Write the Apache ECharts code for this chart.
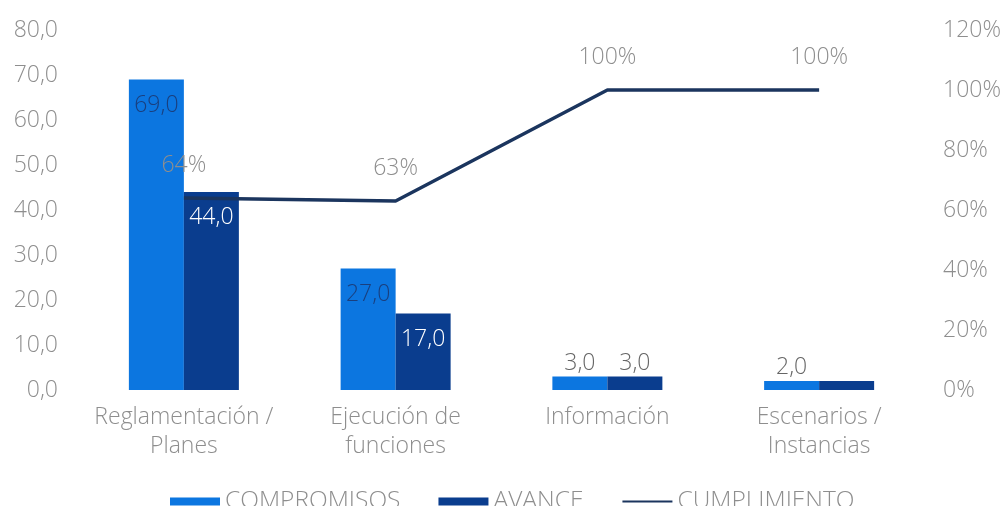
<!DOCTYPE html>
<html>
<head>
<meta charset="utf-8">
<script src="https://cdn.jsdelivr.net/npm/echarts@6/dist/echarts.min.js"></script>
<style>
html,body{margin:0;padding:0;background:#fff;}
#chart{width:1005px;height:506px;}
</style>
</head>
<body>
<div id="chart"></div>
<script>
const categories = ['Reglamentación /\nPlanes', 'Ejecución de\nfunciones', 'Información', 'Escenarios /\nInstancias'];
const compromisos = [69, 27, 3, 2];
const avance = [44, 17, 3, 2];
const cumplimiento = [0.64, 0.63, 1.0, 1.0];
const leftTicks = [0, 10, 20, 30, 40, 50, 60, 70, 80];
const rightTicks = [0, 0.2, 0.4, 0.6, 0.8, 1.0, 1.2];
const avanceLabelHidden = [false, false, false, true];

const FONT = '"Open Sans", sans-serif';
const GRAY = '#8e8e8e';
const FS = 23;
const fmt1 = v => v.toFixed(1).replace('.', ',');

function barData(vals, insideColor, hidden) {
  return vals.map((v, i) => {
    const small = v < 8;
    return {
      value: v,
      label: {
        show: !(hidden && hidden[i]),
        position: small ? 'top' : 'insideTop',
        distance: small ? 2 : 14,
        color: small ? '#666666' : insideColor
      }
    };
  });
}

const chart = echarts.init(document.getElementById('chart'));
chart.setOption({
  animation: false,
  textStyle: { fontFamily: FONT },
  grid: { left: 78, right: 80, top: 30, bottom: 116, containLabel: false },
  legend: {
    left: 165, top: 484,
    itemWidth: 50, itemHeight: 8, itemGap: 38,
    textStyle: { fontFamily: FONT, fontSize: 24.5, color: GRAY, fontWeight: 300 },
    data: [
      { name: 'COMPROMISOS', icon: 'rect' },
      { name: 'AVANCE', icon: 'rect' },
      { name: 'CUMPLIMIENTO', itemStyle: { opacity: 0 } }
    ]
  },
  xAxis: {
    type: 'category',
    data: categories,
    axisLine: { show: false },
    axisTick: { show: false },
    axisLabel: { color: GRAY, fontSize: FS, fontWeight: 300, lineHeight: 29, margin: 13, fontFamily: FONT, interval: 0 }
  },
  yAxis: [
    {
      type: 'value', min: leftTicks[0], max: leftTicks[leftTicks.length - 1], interval: leftTicks[1] - leftTicks[0],
      axisLine: { show: false }, axisTick: { show: false }, splitLine: { show: false },
      axisLabel: { color: GRAY, fontSize: FS, fontWeight: 300, margin: 20, fontFamily: FONT, formatter: v => fmt1(v) }
    },
    {
      type: 'value', min: rightTicks[0], max: rightTicks[rightTicks.length - 1], interval: 0.2,
      axisLine: { show: false }, axisTick: { show: false }, splitLine: { show: false },
      axisLabel: { color: GRAY, fontSize: FS, fontWeight: 300, margin: 18, fontFamily: FONT, formatter: v => Math.round(v * 100) + '%' }
    }
  ],
  series: [
    {
      name: 'COMPROMISOS', type: 'bar', yAxisIndex: 0,
      barWidth: 55, barGap: '0%',
      itemStyle: { color: '#0C76E0' },
      label: { show: true, fontSize: FS, fontWeight: 300, fontFamily: FONT, formatter: p => fmt1(p.value) },
      data: barData(compromisos, '#1a3f7e')
    },
    {
      name: 'AVANCE', type: 'bar', yAxisIndex: 0,
      barWidth: 55, barGap: '0%',
      itemStyle: { color: '#0A3D8E' },
      label: { show: true, fontSize: FS, fontWeight: 300, fontFamily: FONT, formatter: p => fmt1(p.value) },
      data: barData(avance, '#ffffff', avanceLabelHidden)
    },
    {
      name: 'CUMPLIMIENTO', type: 'line', yAxisIndex: 1,
      symbol: 'circle', symbolSize: 2, showSymbol: true,
      lineStyle: { color: '#1B355E', width: 3.5 },
      itemStyle: { color: '#1B355E', opacity: 0 },
      label: { show: true, position: 'top', distance: 20, color: GRAY, fontSize: FS, fontWeight: 300, fontFamily: FONT, opacity: 1, formatter: p => Math.round(p.value * 100) + '%' },
      data: cumplimiento
    }
  ]
});
</script>
</body>
</html>
